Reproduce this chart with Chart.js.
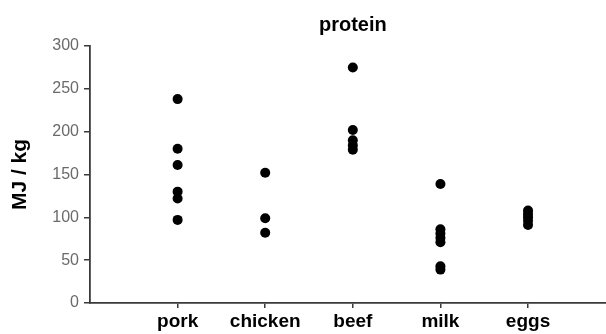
<!DOCTYPE html>
<html>
<head>
<meta charset="utf-8">
<script src="https://cdn.jsdelivr.net/npm/chart.js@4/dist/chart.umd.min.js"></script>
<style>
  html, body { margin: 0; padding: 0; background: #fff; }
  #wrap { width: 606px; height: 334px; }
</style>
</head>
<body>
<div id="wrap"><canvas id="chart" width="606" height="334"></canvas></div>
<script>
"use strict";

// ── Data ─────────────────────────────────────────────────────────────────────

const categories = ["pork", "chicken", "beef", "milk", "eggs"];

const pork    = [238, 180, 161, 130, 122, 97];
const chicken = [152, 99, 82];
const beef    = [275, 202, 190, 184, 179];
const milk    = [139, 86, 81, 76, 71, 43, 39];
const eggs    = [108, 104, 100, 96, 91];

const yTicks = [0, 50, 100, 150, 200, 250, 300];

const chartTitle = "protein";

const series = [pork, chicken, beef, milk, eggs];

// one scatter point per value, x = category position (1..5)
const points = [];
series.forEach((vals, i) => {
  vals.forEach((v) => points.push({ x: i + 1, y: v }));
});

// ── Chart ────────────────────────────────────────────────────────────────────

const FONT = "'Liberation Sans', Arial, Helvetica, sans-serif";
const AXIS = "#3a3a3a";

// title sits over the middle category rather than the canvas centre
const centredTitle = {
  id: "centredTitle",
  afterDraw(chart) {
    const { ctx, scales } = chart;
    const mid = scales.x.getPixelForValue((categories.length + 1) / 2);
    ctx.save();
    ctx.font = `bold 20px ${FONT}`;
    ctx.fillStyle = "#000";
    ctx.textAlign = "center";
    ctx.textBaseline = "middle";
    ctx.fillText(chartTitle, mid, 25.5);
    ctx.restore();
  },
};

new Chart(document.getElementById("chart").getContext("2d"), {
  type: "scatter",
  data: {
    datasets: [{
      data: points,
      backgroundColor: "#000",
      borderColor: "#000",
      borderWidth: 0,
      pointRadius: 5,
      pointHoverRadius: 5,
    }],
  },
  plugins: [centredTitle],
  options: {
    responsive: false,
    animation: false,
    layout: { autoPadding: false, padding: { top: 46, right: 0, bottom: 0, left: 0 } },
    plugins: {
      legend: { display: false },
      tooltip: { enabled: false },
      title: { display: false },
    },
    scales: {
      x: {
        type: "linear",
        min: 0,
        max: 5.89,
        afterBuildTicks: (scale) => {
          scale.ticks = categories.map((_, i) => ({ value: i + 1 }));
        },
        afterFit: (scale) => { scale.height = 31; },
        ticks: {
          callback: (v) => categories[v - 1] || "",
          color: "#000",
          font: { family: FONT, size: 19, weight: "bold" },
          padding: 2,
          maxRotation: 0,
          autoSkip: false,
        },
        grid: { drawOnChartArea: false, tickLength: 5, color: AXIS, lineWidth: 1.5 },
        border: { display: true, color: AXIS, width: 1.8 },
      },
      y: {
        min: 0,
        max: 300,
        afterBuildTicks: (scale) => {
          scale.ticks = yTicks.map((v) => ({ value: v }));
        },
        afterFit: (scale) => { scale.width = 90; },
        ticks: {
          color: "#6a6a6a",
          font: { family: FONT, size: 16 },
          padding: 5,
        },
        grid: { drawOnChartArea: false, tickLength: 6, color: AXIS, lineWidth: 1.5 },
        border: { display: true, color: AXIS, width: 1.8 },
        title: {
          display: true,
          text: "MJ / kg",
          color: "#000",
          font: { family: FONT, size: 21, weight: "bold" },
          padding: { top: 8, bottom: 0 },
        },
      },
    },
  },
});
</script>
</body>
</html>
